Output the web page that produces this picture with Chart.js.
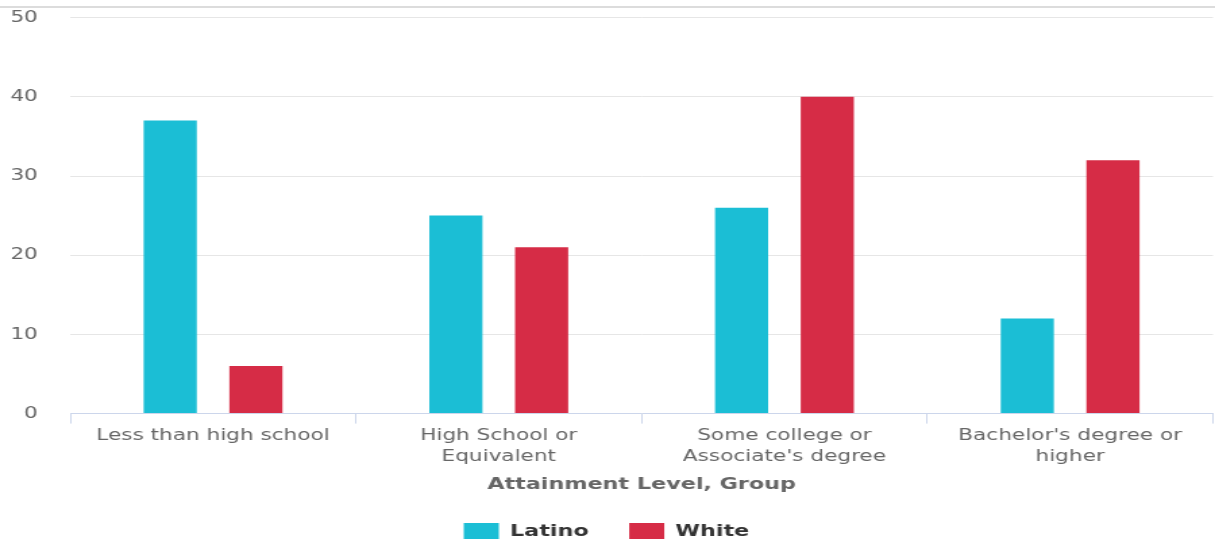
<!DOCTYPE html>
<html>
<head>
<meta charset="utf-8">
<script src="https://cdn.jsdelivr.net/npm/chart.js@4/dist/chart.umd.min.js"></script>
<style>
  html, body { margin: 0; padding: 0; background: #fff; overflow: hidden; }
  .wrap { position: relative; width: 1215px; height: 539px; overflow: hidden; }
  .topline { position: absolute; left: 0; top: 6px; width: 1215px; height: 0; border-top: 2px solid #dcdcdc; z-index: 2; }
  /* the reference looks horizontally stretched, so draw narrower and stretch */
  #myChart { position: absolute; left: 0; top: -16px; transform: scaleX(1.35); transform-origin: 0 0; }
</style>
</head>
<body>
<div class="wrap">
  <div class="topline"></div>
  <canvas id="myChart" width="900" height="579" style="width:900px;height:579px"></canvas>
</div>
<script>
const categories = [
  'Less than high school',
  ['High School or', 'Equivalent'],
  ['Some college or', "Associate's degree"],
  ["Bachelor's degree or", 'higher']
];
const latino = [37, 25, 26, 12];
const white = [6, 21, 40, 32];
const yTicks = [0, 10, 20, 30, 40, 50];

const FONT = '"DejaVu Sans", sans-serif';
const ctx = document.getElementById('myChart').getContext('2d');
Chart.defaults.font.family = FONT;

// nudge the legend up a little without touching the rest of the layout
const liftLegend = {
  id: 'liftLegend',
  afterLayout(chart) {
    if (chart.legend) {
      chart.legend.top -= 6;
      chart.legend.bottom -= 6;
    }
  }
};

const myChart = new Chart(ctx, {
  type: 'bar',
  plugins: [liftLegend],
  data: {
    labels: categories,
    datasets: [{
      label: 'Latino',
      data: latino,
      backgroundColor: '#1bbed5',
      categoryPercentage: 0.6,
      barPercentage: 0.62,
    }, {
      label: 'White',
      data: white,
      backgroundColor: '#d62c46',
      categoryPercentage: 0.6,
      barPercentage: 0.62,
    }]
  },
  options: {
    responsive: false,
    animation: false,
    layout: {
      padding: {top: 20, right: 1.5, left: 0, bottom: 6}
    },
    plugins: {
      legend: {
        display: true,
        position: 'bottom',
        labels: {
          boxWidth: 26,
          boxHeight: 18,
          padding: 30,
          color: '#333',
          font: {family: FONT, size: 16.5, weight: 'bold'}
        }
      },
      tooltip: {enabled: false}
    },
    scales: {
      x: {
        grid: {
          drawOnChartArea: false,
          drawTicks: true,
          tickLength: 10,
          color: '#ccd6eb',
          offset: true
        },
        border: {color: '#ccd6eb', width: 1},
        ticks: {
          color: '#666',
          font: {family: FONT, size: 16, lineHeight: 1.3},
          padding: 2,
          maxRotation: 0
        },
        title: {
          display: true,
          text: 'Attainment Level, Group',
          color: '#666',
          font: {family: FONT, size: 16.5, weight: 'bold'},
          padding: {top: 6, bottom: 4}
        }
      },
      y: {
        min: 0,
        max: 50,
        afterBuildTicks: (axis) => { axis.ticks = yTicks.map(v => ({value: v})); },
        afterFit: (axis) => { axis.width = 52; },
        grid: {
          color: '#e6e6e6',
          drawTicks: false
        },
        border: {display: false},
        ticks: {
          color: '#666',
          font: {family: FONT, size: 16},
          padding: 24
        }
      }
    }
  }
});
</script>
</body>
</html>
